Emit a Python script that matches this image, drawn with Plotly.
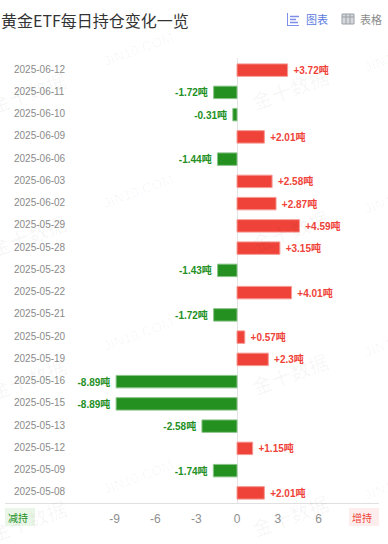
import plotly.graph_objects as go

dates = ["2025-06-12","2025-06-11","2025-06-10","2025-06-09","2025-06-06","2025-06-03","2025-06-02","2025-05-29","2025-05-28","2025-05-23","2025-05-22","2025-05-21","2025-05-20","2025-05-19","2025-05-16","2025-05-15","2025-05-13","2025-05-12","2025-05-09","2025-05-08"]
values = [3.72,-1.72,-0.31,2.01,-1.44,2.58,2.87,4.59,3.15,-1.43,4.01,-1.72,0.57,2.3,-8.89,-8.89,-2.58,1.15,-1.74,2.01]
x_ticks = [-9,-6,-3,0,3,6]
x_tick_labels = ["-9","-6","-3","0","3","6"]
W, H = 388, 544
L, R, T, B = 5, 379, 58, 503
RED, GREEN = "#ef4339", "#23901f"
FONT = "Liberation Sans, Noto Sans CJK SC, sans-serif"
CJK = "Noto Sans CJK SC, Liberation Sans, sans-serif"

def px(x): return (x - L) / (R - L)
def py(y): return (B - y) / (B - T)

colors = [RED if v > 0 else GREEN for v in values]
borders = ["#f59a94" if v > 0 else "#8cc48a" for v in values]
labels = [f"\u00a0{v:+g}吨\u00a0" for v in values]

fig = go.Figure(go.Bar(
    x=values, y=dates, orientation="h", width=0.56,
    marker=dict(color=colors, line=dict(color=borders, width=1)),
    text=labels, textposition="outside", cliponaxis=False, constraintext="none",
    textfont=dict(size=10, color=colors, family=FONT, weight="bold"),
    hoverinfo="skip",
))

ann = []
for d in dates:
    ann.append(dict(xref="paper", yref="y", x=px(14), y=d, text=d, showarrow=False, xanchor="left", xshift=-2, yshift=1,
                    font=dict(size=10, color="#8a8a8a", family="Liberation Sans")))

def note(x, y, text, size, color, family, xanchor="center", angle=0, weight=400):
    return dict(xref="paper", yref="paper", x=px(x), y=py(y), text=text, showarrow=False,
                xanchor=xanchor, yanchor="middle", textangle=angle,
                font=dict(size=size, color=color, family=family, weight=weight))

for wx, dy in ((28, 5), (290, 0)):
    for wy in (88, 230, 373, 515):
        ann.append(note(wx, wy + dy, "金十数据", 20, "rgba(0,0,0,0.028)", CJK, angle=-20, weight=700))
for wx, dy in ((138, 0), (399, 6)):
    for wy in (49, 191, 334, 477):
        ann.append(note(wx, wy + dy, "JIN10.COM", 14, "rgba(0,0,0,0.028)", "Liberation Sans", angle=-20, weight=700))

ann += [
    note(-1, 20, "黄金ETF每日持仓变化一览", 16, "#333333", CJK, xanchor="left"),
    note(304, 19, "图表", 11, "#5b7be0", CJK, xanchor="left"),
    note(358, 19, "表格", 11, "#8c8c8c", CJK, xanchor="left"),
    note(18, 517, "减持", 10, "#23901f", CJK),
    note(362, 517, "增持", 10, "#ef4339", CJK),
]

def rect(x0, y0, x1, y1, **kw):
    return dict(type="rect", xref="paper", yref="paper", x0=px(x0), x1=px(x1), y0=py(y0), y1=py(y1), **kw)
def line(x0, y0, x1, y1, color, width=1):
    return dict(type="line", xref="paper", yref="paper", x0=px(x0), x1=px(x1), y0=py(y0), y1=py(y1),
                line=dict(color=color, width=width))

shapes = [
    rect(5, 508, 35, 526, fillcolor="#e9f6e8", line_width=0, layer="below"),
    rect(349, 508, 379, 526, fillcolor="#fdeeed", line_width=0, layer="below"),
    line(287.5, 13, 287.5, 26, "#7d8fe8"), line(287, 25.5, 299, 25.5, "#7d8fe8"),
    line(290, 16.5, 299, 16.5, "#7d8fe8", 1.5), line(290, 19.5, 296, 19.5, "#7d8fe8", 1.5), line(290, 22.5, 298, 22.5, "#7d8fe8", 1.5),
    rect(342, 14, 354, 24, fillcolor="#d5d8dc", line=dict(color="#9aa0a6", width=1)),
    line(346, 14, 346, 24, "#9aa0a6"), line(350, 14, 350, 24, "#9aa0a6"), line(342, 17, 354, 17, "#9aa0a6"),
]

fig.update_layout(
    width=W, height=H, autosize=False, showlegend=False,
    paper_bgcolor="white", plot_bgcolor="rgba(0,0,0,0)",
    margin=dict(l=L, r=W-R, t=T, b=H-B),
    annotations=ann, shapes=shapes,
    xaxis=dict(range=[-17.06, 10.44], tickvals=x_ticks, ticktext=x_tick_labels, showgrid=False, zeroline=True,
               zerolinecolor="#e3e3e3", zerolinewidth=1, showline=True, linecolor="#e0e0e0", linewidth=1, ticks="",
               ticklabelstandoff=5,
               tickfont=dict(size=12, color="#8f8f8f", family="Liberation Sans")),
    yaxis=dict(type="category", categoryorder="array", categoryarray=dates[::-1], showticklabels=False,
               range=[-0.455, 19.545], showgrid=False, ticks="", showline=False, zeroline=False),
)
fig.write_html("out.html", config=dict(displayModeBar=False),
               post_script="document.body.style.margin='0';document.body.style.overflow='hidden';")
